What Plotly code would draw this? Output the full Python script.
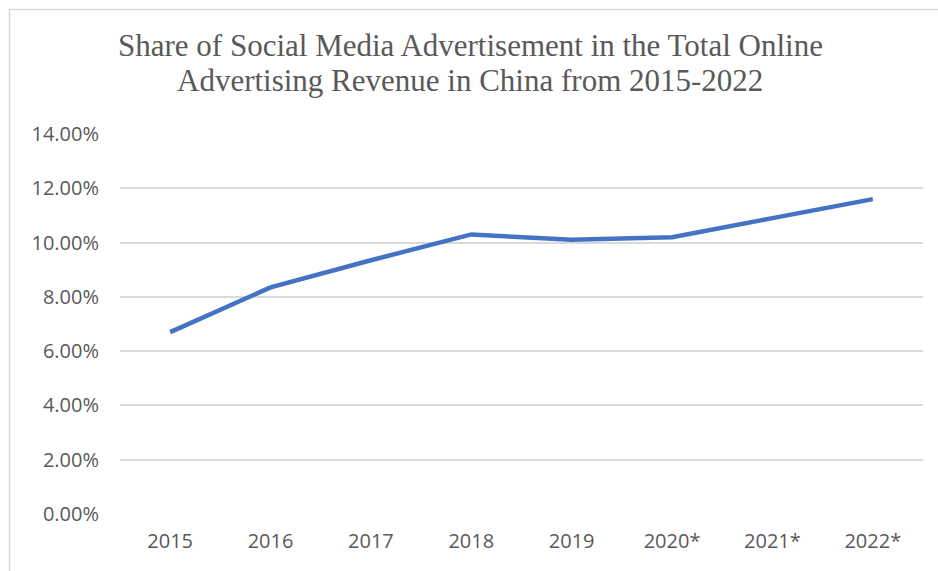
import plotly.graph_objects as go

# Share of social media advertising in total online ad revenue, China
years = ["2015", "2016", "2017", "2018", "2019", "2020*", "2021*", "2022*"]
share_pct = [6.7, 8.35, 9.35, 10.3, 10.1, 10.2, 10.9, 11.6]
y_ticks = [0, 2, 4, 6, 8, 10, 12, 14]
y_tick_labels = ["0.00%", "2.00%", "4.00%", "6.00%", "8.00%", "10.00%", "12.00%", "14.00%"]
title_lines = [
    "Share of Social Media Advertisement in the Total Online",
    "Advertising Revenue in China from 2015-2022",
]

W, H = 938, 571
L, R, T, B = 120, 15, 134, 57
pw, ph = W - L - R, H - T - B


def px_to_paper_x(px):
    return (px - L) / pw


def px_to_paper_y(py):
    return (H - B - py) / ph


fig = go.Figure()
fig.add_trace(go.Scatter(
    x=years,
    y=share_pct,
    mode="lines",
    line=dict(color="#4472C4", width=4.5),
    hoverinfo="x+y",
))

tick_font = dict(family="Open Sans, Carlito, Calibri, sans-serif", size=20, color="#595959")
title_font = dict(family="Liberation Serif, Times New Roman, serif", size=31, color="#595959")

# Two-line chart title, set as separate annotations for tighter line spacing
title_centers = [45, 80.5]
annotations = [
    dict(
        text=line,
        xref="paper",
        yref="paper",
        x=px_to_paper_x(470),
        y=px_to_paper_y(cy),
        xanchor="center",
        yanchor="middle",
        showarrow=False,
        font=title_font,
    )
    for line, cy in zip(title_lines, title_centers)
]

fig.update_layout(
    width=W,
    height=H,
    margin=dict(l=L, r=R, t=T, b=B),
    paper_bgcolor="white",
    plot_bgcolor="white",
    showlegend=False,
    annotations=annotations,
    xaxis=dict(
        type="category",
        range=[-0.5, 7.5],
        showgrid=False,
        showline=False,
        zeroline=False,
        ticks="",
        tickfont=tick_font,
        ticklabelstandoff=13,
    ),
    yaxis=dict(
        range=[0, 14],
        tickvals=y_ticks,
        ticktext=y_tick_labels,
        showgrid=True,
        gridcolor="#d9d9d9",
        gridwidth=1.5,
        zeroline=False,
        showline=False,
        ticks="",
        tickfont=tick_font,
        ticklabelstandoff=20,
    ),
    shapes=[
        dict(
            type="rect",
            xref="paper",
            yref="paper",
            x0=px_to_paper_x(9.5),
            y0=px_to_paper_y(600),
            x1=px_to_paper_x(980),
            y1=px_to_paper_y(9.5),
            line=dict(color="#d9d9d9", width=1.5),
            fillcolor="rgba(0,0,0,0)",
            layer="below",
        )
    ],
)

fig.write_html("out.html")
